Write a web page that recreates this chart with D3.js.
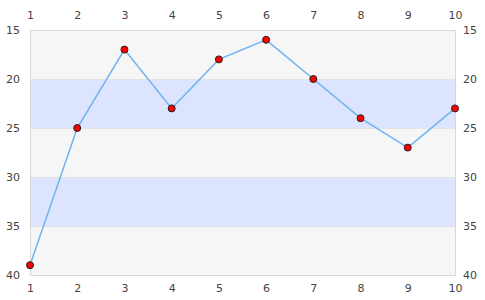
<!DOCTYPE html>
<html>
<head>
<meta charset="utf-8">
<script src="https://cdn.jsdelivr.net/npm/d3@7"></script>
<style>
  body { margin: 0; background: #fff; }
  .tick text { font-family: "DejaVu Sans", sans-serif; font-size: 11px; fill: #444; }
</style>
</head>
<body>
<div id="chart"></div>
<script>
var xs = [1, 2, 3, 4, 5, 6, 7, 8, 9, 10];
var ys = [39, 25, 17, 23, 18, 16, 20, 24, 27, 23];
var yTicks = [15, 20, 25, 30, 35, 40];
var bands = [
    {from: 15, to: 20, fill: "#f6f6f6"},
    {from: 20, to: 25, fill: "#dde4fe"},
    {from: 25, to: 30, fill: "#f6f6f6"},
    {from: 30, to: 35, fill: "#dde4fe"},
    {from: 35, to: 40, fill: "#f6f6f6"}
];

var W = 485, H = 300;
var margin = {top: 30, right: 30, bottom: 25, left: 30},
    width = W - margin.left - margin.right,
    height = H - margin.top - margin.bottom;

var x = d3.scaleLinear().domain([1, 10]).range([0, width]);
var y = d3.scaleLinear().domain([15, 40]).range([0, height]);

var svg = d3.select("#chart").append("svg")
    .attr("width", W)
    .attr("height", H)
  .append("g")
    .attr("transform", "translate(" + margin.left + "," + margin.top + ")");

// plot bands
svg.selectAll(".band")
    .data(bands)
    .enter().append("rect")
    .attr("class", "band")
    .attr("x", 0)
    .attr("width", width)
    .attr("y", function (d) { return y(d.from); })
    .attr("height", function (d) { return y(d.to) - y(d.from); })
    .style("fill", function (d) { return d.fill; });

// band edges
svg.selectAll(".grid")
    .data(yTicks.slice(1, -1))
    .enter().append("line")
    .attr("x1", 0).attr("x2", width)
    .attr("y1", function (d) { return y(d) + 0.5; })
    .attr("y2", function (d) { return y(d) + 0.5; })
    .style("stroke", "#e4e4e4");

svg.append("rect")
    .attr("x", 0.5).attr("y", 0.5)
    .attr("width", width).attr("height", height)
    .style("fill", "none")
    .style("stroke", "#d8d8d8");

// axes, no lines, labels only
function strip(g) {
    g.select(".domain").remove();
    g.selectAll(".tick line").remove();
}
svg.append("g").call(d3.axisTop(x).tickValues(xs).tickSize(0).tickPadding(11)).call(strip);
svg.append("g").attr("transform", "translate(0," + height + ")")
    .call(d3.axisBottom(x).tickValues(xs).tickSize(0).tickPadding(9)).call(strip);
svg.append("g").call(d3.axisLeft(y).tickValues(yTicks).tickSize(0).tickPadding(10)).call(strip);
svg.append("g").attr("transform", "translate(" + width + ",0)")
    .call(d3.axisRight(y).tickValues(yTicks).tickSize(0).tickPadding(8)).call(strip);

var data = xs.map(function (v, i) { return {x: v, y: ys[i]}; });

var line = d3.line()
    .x(function (d) { return x(d.x); })
    .y(function (d) { return y(d.y); });

svg.append("path")
    .datum(data)
    .attr("d", line)
    .style("fill", "none")
    .style("stroke", "#6db3f2")
    .style("stroke-width", 1.5);

svg.selectAll(".dot")
    .data(data)
    .enter().append("circle")
    .attr("class", "dot")
    .attr("cx", function (d) { return x(d.x); })
    .attr("cy", function (d) { return y(d.y); })
    .attr("r", 3.5)
    .style("fill", "#ff0000")
    .style("stroke", "#222")
    .style("stroke-width", 1);
</script>
</body>
</html>
